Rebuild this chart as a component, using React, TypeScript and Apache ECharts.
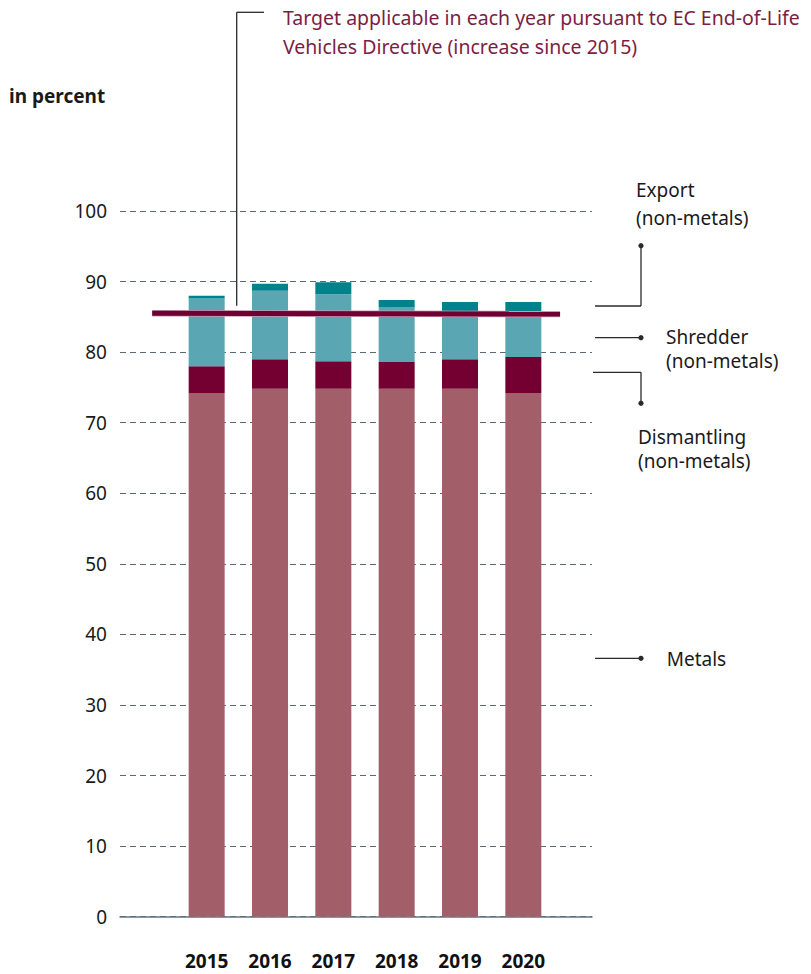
import React, { useEffect, useRef } from "react";
import * as echarts from "echarts";

// End-of-life vehicles: recovery shares by path, in percent
const YEARS = ["2015", "2016", "2017", "2018", "2019", "2020"];
const METALS = [74.2, 74.8, 74.8, 74.8, 74.8, 74.2];
const DISMANTLING = [3.8, 4.2, 3.9, 3.8, 4.2, 5.1];
const SHREDDER = [9.6, 9.7, 9.5, 7.8, 6.6, 6.2];
const EXPORT = [0.4, 1.0, 1.7, 1.0, 1.5, 1.6];

// Target line: start / end on the year scale and its value there
const TARGET_X = [2014.14, 2020.58];
const TARGET = [85.5, 85.4];

const Y_TICKS = [0, 10, 20, 30, 40, 50, 60, 70, 80, 90, 100];

const SANS = "'Noto Sans', sans-serif";
const INK = "#1a1a1a";
const LEAD = "#2a2a2a";

const COLORS = {
  metals: "#a35f69",
  dismantling: "#730030",
  shredder: "#5aa6b2",
  export: "#00828c",
  target: "#6e0032",
  targetHalo: "#cc9aac",
  targetText: "#7d1d45",
  grid: "#5a6973",
  base: "#64737d",
};

function seg(x1: number, y1: number, x2: number, y2: number) {
  return {
    type: "line",
    shape: { x1, y1, x2, y2 },
    style: { stroke: LEAD, lineWidth: 1.3 },
    silent: true,
  };
}

function dot(cx: number, cy: number) {
  return {
    type: "circle",
    shape: { cx, cy, r: 2.6 },
    style: { fill: LEAD },
    silent: true,
  };
}

function label(text: string, x: number, y: number, opts: any = {}) {
  return {
    type: "text",
    x,
    y,
    style: {
      text,
      fill: opts.fill || INK,
      font: `${opts.weight || "normal"} ${opts.size || 19}px ${opts.family || SANS}`,
      align: "left",
      verticalAlign: "middle",
    },
    silent: true,
  };
}

export default function App() {
  const ref = useRef<HTMLDivElement>(null);

  useEffect(() => {
    if (!ref.current) return;
    const chart = echarts.init(ref.current, null, { renderer: "svg" });

    const gridTop = 211;
    const gridBottom = 974 - 916.7;

    const barSeries = (name: string, data: number[], color: string) => ({
      name,
      type: "bar",
      stack: "total",
      xAxisIndex: 1,
      yAxisIndex: 1,
      barWidth: 36,
      data,
      itemStyle: { color },
      z: 2,
    });

    const option: any = {
      animation: false,
      backgroundColor: "#ffffff",
      grid: [
        { left: 120, width: 472, top: gridTop, bottom: gridBottom },
        { left: 175, width: 380, top: gridTop, bottom: gridBottom },
      ],
      xAxis: [
        {
          type: "value",
          gridIndex: 0,
          min: 2013.632,
          max: 2021.084,
          axisLine: { show: true, lineStyle: { color: COLORS.base, width: 1.5 } },
          axisTick: { show: false },
          axisLabel: { show: false },
          splitLine: { show: false },
        },
        {
          type: "category",
          gridIndex: 1,
          data: YEARS,
          axisLine: { show: false },
          axisTick: { show: false },
          axisLabel: {
            margin: 35,
            color: "#111111",
            fontFamily: SANS,
            fontWeight: "bold",
            fontSize: 19,
          },
        },
      ],
      yAxis: [
        {
          type: "value",
          gridIndex: 0,
          min: Y_TICKS[0],
          max: Y_TICKS[Y_TICKS.length - 1],
          interval: 10,
          axisLine: { show: false },
          axisTick: { show: false },
          axisLabel: {
            margin: 13,
            color: INK,
            fontFamily: SANS,
            fontSize: 19,
          },
          splitLine: {
            show: true,
            lineStyle: { color: COLORS.grid, type: [6, 4], width: 1 },
          },
        },
        {
          type: "value",
          gridIndex: 1,
          min: 0,
          max: 100,
          show: false,
          splitLine: { show: false },
        },
      ],
      series: [
        barSeries("Metals", METALS, COLORS.metals),
        barSeries("Dismantling (non-metals)", DISMANTLING, COLORS.dismantling),
        barSeries("Shredder (non-metals)", SHREDDER, COLORS.shredder),
        barSeries("Export (non-metals)", EXPORT, COLORS.export),
        {
          name: "Target halo",
          type: "line",
          xAxisIndex: 0,
          yAxisIndex: 0,
          data: TARGET_X.map((x, i) => [x, TARGET[i]]),
          symbol: "none",
          lineStyle: { color: COLORS.targetHalo, width: 6.5 },
          z: 5,
          silent: true,
        },
        {
          name: "Target",
          type: "line",
          xAxisIndex: 0,
          yAxisIndex: 0,
          data: TARGET_X.map((x, i) => [x, TARGET[i]]),
          symbol: "none",
          lineStyle: { color: COLORS.target, width: 5 },
          z: 6,
          silent: true,
        },
      ],
      graphic: [
        label("in percent", 9, 96, { weight: "bold" }),
        // target annotation
        seg(236.7, 12.3, 264, 12.3),
        seg(236.7, 12.3, 236.7, 305.7),
        label("Target applicable in each year pursuant to EC End-of-Life", 283, 17, {
          size: 19.5,
          fill: COLORS.targetText,
        }),
        label("Vehicles Directive (increase since 2015)", 283, 46, {
          size: 19.5,
          fill: COLORS.targetText,
        }),
        // export
        seg(595, 306, 641, 306),
        seg(641, 306, 641, 245.7),
        dot(641, 245.7),
        label("Export", 636, 189.7),
        label("(non-metals)", 636, 217.7),
        // shredder
        seg(595, 337.7, 641, 337.7),
        dot(641, 337.7),
        label("Shredder", 666, 336.7),
        label("(non-metals)", 666, 361),
        // dismantling
        seg(593, 372.3, 641, 372.3),
        seg(641, 372.3, 641, 403.3),
        dot(641, 403.3),
        label("Dismantling", 638, 437.3),
        label("(non-metals)", 638, 461),
        // metals
        seg(595, 658.3, 641, 658.3),
        dot(641, 658.3),
        label("Metals", 666.7, 659),
      ],
    };

    chart.setOption(option);
    return () => chart.dispose();
  }, []);

  return (
    <div
      ref={ref}
      style={{ position: "fixed", left: 0, top: 0, width: 811, height: 974 }}
    />
  );
}
